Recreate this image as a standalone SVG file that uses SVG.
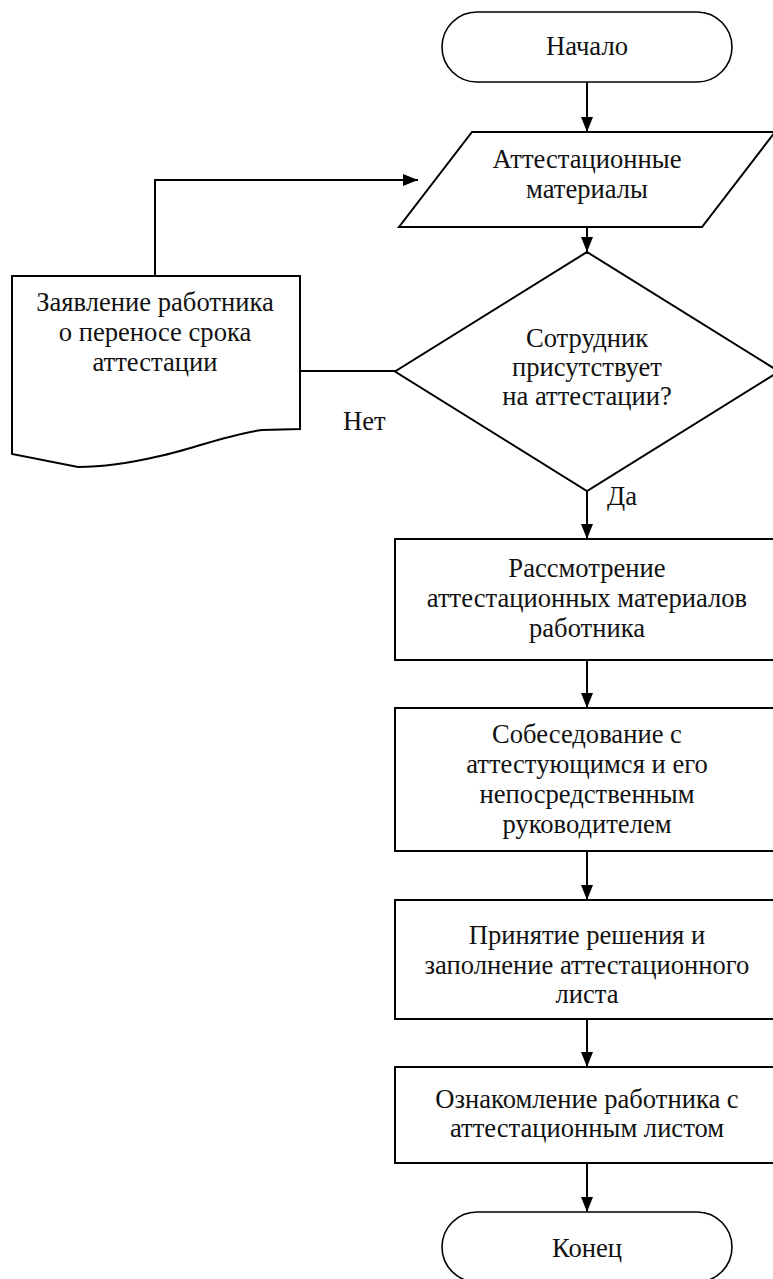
<svg xmlns="http://www.w3.org/2000/svg" width="773" height="1279" viewBox="0 0 773 1279">
<style>
.s{fill:#fff;stroke:#000;stroke-width:2;stroke-linejoin:miter}
.t{fill:#fff;stroke:#000;stroke-width:1.6}
.c{fill:none;stroke:#000;stroke-width:2}
.tx{font-family:'Liberation Serif','DejaVu Serif',serif;font-size:26.6px;fill:#111;text-anchor:middle}
.l{text-anchor:start}
</style>
<defs>
<marker id="ah" markerUnits="userSpaceOnUse" markerWidth="15" markerHeight="12" refX="15" refY="6" orient="auto">
<path d="M0,0 L15,6 L0,12 z" fill="#000"/>
</marker>
</defs>
<rect width="773" height="1279" fill="#fff"/>
<g id="connectors">
<line class="c" x1="587" y1="82" x2="587" y2="132" marker-end="url(#ah)"/>
<line class="c" x1="587" y1="227" x2="587" y2="252" marker-end="url(#ah)"/>
<line class="c" x1="587" y1="491" x2="587" y2="539" marker-end="url(#ah)"/>
<line class="c" x1="587" y1="660" x2="587" y2="708" marker-end="url(#ah)"/>
<line class="c" x1="587" y1="851" x2="587" y2="900" marker-end="url(#ah)"/>
<line class="c" x1="587" y1="1019" x2="587" y2="1067" marker-end="url(#ah)"/>
<line class="c" x1="587" y1="1163" x2="587" y2="1212" marker-end="url(#ah)"/>
<line class="c" x1="395" y1="371" x2="300" y2="371"/>
<polyline class="c" points="155,276 155,180 418,180" marker-end="url(#ah)"/>
<text class="tx l" x="343" y="430">Нет</text>
<text class="tx l" x="607" y="505">Да</text>
</g>
<g id="start">
<rect class="t" x="442" y="12" width="290" height="70" rx="35" ry="35"/>
<text class="tx" x="587" y="55">Начало</text>
</g>
<g id="materials">
<polygon class="s" points="472,132 775,132 702,227 399,227"/>
<text class="tx" x="587" y="168">Аттестационные</text>
<text class="tx" x="587" y="198">материалы</text>
</g>
<g id="decision">
<polygon class="s" points="587,252 779,371.5 587,491 395,371.5"/>
<text class="tx" x="587" y="347">Сотрудник</text>
<text class="tx" x="587" y="376">присутствует</text>
<text class="tx" x="587" y="405">на аттестации?</text>
</g>
<g id="request">
<path class="s" d="M12,276 H300 V429 L262,430 C225,435 190,450 160,456 C130,463 105,467 78,467 L12,454 Z"/>
<text class="tx" x="155" y="311">Заявление работника</text>
<text class="tx" x="155" y="341">о переносе срока</text>
<text class="tx" x="155" y="371">аттестации</text>
</g>
<g id="review">
<rect class="s" x="395" y="539" width="384" height="121"/>
<text class="tx" x="587" y="577">Рассмотрение</text>
<text class="tx" x="587" y="607">аттестационных материалов</text>
<text class="tx" x="587" y="637">работника</text>
</g>
<g id="interview">
<rect class="s" x="395" y="708" width="384" height="143"/>
<text class="tx" x="587" y="743">Собеседование с</text>
<text class="tx" x="587" y="773">аттестующимся и его</text>
<text class="tx" x="587" y="803">непосредственным</text>
<text class="tx" x="587" y="833">руководителем</text>
</g>
<g id="decision-sheet">
<rect class="s" x="395" y="900" width="384" height="119"/>
<text class="tx" x="587" y="944">Принятие решения и</text>
<text class="tx" x="587" y="974">заполнение аттестационного</text>
<text class="tx" x="587" y="1003">листа</text>
</g>
<g id="acquaint">
<rect class="s" x="395" y="1067" width="384" height="96"/>
<text class="tx" x="587" y="1108">Ознакомление работника с</text>
<text class="tx" x="587" y="1137">аттестационным листом</text>
</g>
<g id="end">
<rect class="t" x="442" y="1212" width="290" height="70" rx="35" ry="35"/>
<text class="tx" x="587" y="1257">Конец</text>
</g>
</svg>
